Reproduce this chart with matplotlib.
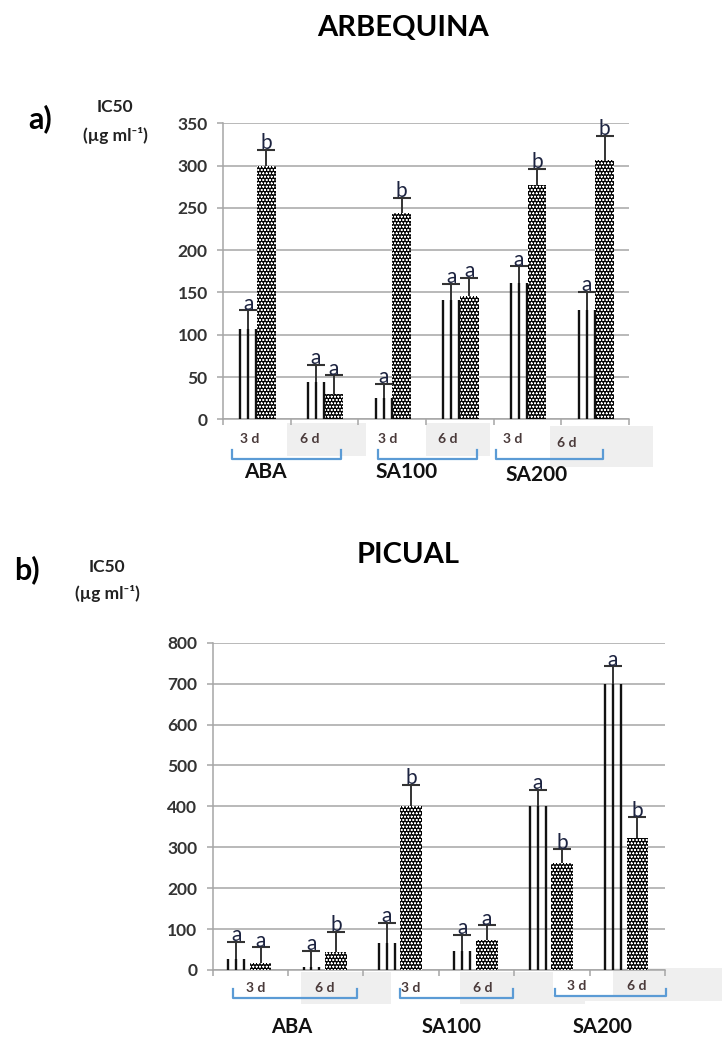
import numpy as np
import matplotlib
matplotlib.use("Agg")
import matplotlib.pyplot as plt
from matplotlib.patches import Rectangle
from matplotlib.lines import Line2D

# ---- data ----
periods = ["3 d", "6 d", "3 d", "6 d", "3 d", "6 d"]
treatments = ["ABA", "SA100", "SA200"]

# ARBEQUINA (panel a)
arb_striped = [107, 44, 25, 141, 161, 129]
arb_striped_err = [22, 20, 17, 19, 20, 22]
arb_dotted = [300, 30, 244, 146, 277, 307]
arb_dotted_err = [19, 22, 18, 21, 19, 28]
arb_striped_let = ["a", "a", "a", "a", "a", "a"]
arb_dotted_let = ["b", "a", "b", "a", "b", "b"]

# PICUAL (panel b)
pic_striped = [28, 8, 67, 46, 400, 700]
pic_striped_err = [41, 38, 49, 40, 40, 42]
pic_dotted = [16, 43, 400, 73, 261, 322]
pic_dotted_err = [39, 51, 52, 36, 34, 51]
pic_striped_let = ["a", "a", "a", "a", "a", "a"]
pic_dotted_let = ["a", "b", "b", "a", "b", "b"]

W, H = 722, 1039
plt.rcParams["font.family"] = ["Lato", "DejaVu Sans"]
plt.rcParams["hatch.linewidth"] = 0.4

fig = plt.figure(figsize=(W / 100, H / 100), dpi=100)


def fx(x):
    return x / W


def fy(y):
    return 1 - y / H


def ftext(x, y, s, **kw):
    kw.setdefault("ha", "center")
    kw.setdefault("va", "center")
    fig.text(fx(x), fy(y), s, **kw)


def bracket(x0, x1, ytop, ybot):
    xs = [fx(x0), fx(x0), fx(x1), fx(x1)]
    ys = [fy(ytop), fy(ybot), fy(ybot), fy(ytop)]
    fig.add_artist(Line2D(xs, ys, color="#5b9bd5", lw=1.6))


def graybox(x0, x1, y0, y1, color="#efefef"):
    fig.add_artist(Rectangle((fx(x0), fy(y1)), fx(x1) - fx(x0), fy(y0) - fy(y1),
                             transform=fig.transFigure, color=color, zorder=0, lw=0))


def up_errors(ax, x, vals, errs, letters):
    tops = np.array(vals) + np.array(errs)
    ax.vlines(x, vals, tops, color="#333333", lw=1.4, zorder=5)
    ax.plot(x, tops, ls="none", marker="_", ms=13, mew=1.5, color="#333333", zorder=5)
    for xi, t, s in zip(x, tops, letters):
        ax.annotate(s, (xi, t), xytext=(0, 0.5), textcoords="offset points",
                    ha="center", va="baseline", fontsize=15, color="#1c2340", zorder=6)


def panel(rect, ymax, ystep, striped, s_err, dotted, d_err, s_let, d_let,
          s_off, s_w, d_off, d_w):
    ax = fig.add_axes(rect)
    ax.set_zorder(2)
    ax.patch.set_alpha(0)
    x = np.arange(len(striped)) + 0.5
    xs = x + s_off
    xd = x + d_off
    # dotted bars: dark fill with white dots
    ax.bar(xd, dotted, width=d_w, color="#050505", edgecolor="white",
           hatch="ooooo", linewidth=0, zorder=3)
    # striped bars: three vertical lines
    for k in (-0.5, 0.0, 0.5):
        ax.vlines(xs + k * s_w, 0, striped, color="#111111", lw=1.7, zorder=3)
    up_errors(ax, xs, striped, s_err, s_let)
    up_errors(ax, xd, dotted, d_err, d_let)
    ax.set_xlim(0, len(striped))
    ax.set_ylim(0, ymax)
    ax.set_yticks(np.arange(0, ymax + 1, ystep))
    ax.set_xticks(np.arange(0, len(striped) + 1))
    ax.set_xticklabels([])
    ax.yaxis.grid(True, color="#a6a6a6", lw=1.1)
    ax.set_axisbelow(True)
    for s in ("top", "right"):
        ax.spines[s].set_visible(False)
    for s in ("left", "bottom"):
        ax.spines[s].set_color("#a6a6a6")
        ax.spines[s].set_linewidth(1.1)
    ax.tick_params(axis="both", direction="out", length=4, color="#a6a6a6", width=1.1)
    ax.tick_params(axis="y", pad=7, labelsize=12.5, labelcolor="#333333")
    for lab in ax.get_yticklabels():
        lab.set_fontweight("bold")
    return ax


# ---- panel a: ARBEQUINA ----
panel([fx(223), fy(419.3), fx(629) - fx(223), fy(123.3) - fy(419.3)], 350, 50,
      arb_striped, arb_striped_err, arb_dotted, arb_dotted_err,
      arb_striped_let, arb_dotted_let, -0.125, 0.24, 0.14, 0.28)

ftext(403, 28, "ARBEQUINA", fontsize=21, fontweight="bold")
ftext(40, 119, "a)", fontsize=22, fontweight="bold")
ftext(115, 107, "IC50", fontsize=12.5, fontweight="bold", color="#222222")
ftext(115, 136, "(µg ml⁻¹)", fontsize=12.5, fontweight="bold", color="#222222")

graybox(287, 366, 423, 456)
graybox(426, 490, 423, 456)
graybox(550, 653, 426, 467)
for xp, yp, t in zip([250, 310, 388, 448, 513, 567], [439, 439, 439, 439, 439, 443], periods):
    ftext(xp, yp, t, fontsize=10, fontweight="bold", color="#4a3a3a")
bracket(232, 341, 450, 459)
bracket(378, 477, 450, 459)
bracket(496, 603, 450, 459)
for xp, yp, t in zip([265, 407, 537], [472, 472, 475], treatments):
    ftext(xp, yp, t, fontsize=15, fontweight="bold", color="#111111")

# ---- panel b: PICUAL ----
panel([fx(212.7), fy(970), fx(665) - fx(212.7), fy(642.7) - fy(970)], 800, 100,
      pic_striped, pic_striped_err, pic_dotted, pic_dotted_err,
      pic_striped_let, pic_dotted_let, -0.19, 0.21, 0.135, 0.29)

ftext(408, 555, "PICUAL", fontsize=21, fontweight="bold")
ftext(27, 570, "b)", fontsize=22, fontweight="bold")
ftext(107, 567, "IC50", fontsize=12.5, fontweight="bold", color="#222222")
ftext(107, 594, "(µg ml⁻¹)", fontsize=12.5, fontweight="bold", color="#222222")

graybox(301, 391, 972, 1004)
graybox(460, 585, 972, 1004)
graybox(553, 722, 968, 1001)
graybox(553, 613, 968, 995, color="white")
for xp, yp, t in zip([256, 325, 411, 483, 577, 637], [988, 988, 988, 988, 986, 986], periods):
    ftext(xp, yp, t, fontsize=10, fontweight="bold", color="#4a3a3a")
bracket(233, 357, 989, 998)
bracket(400, 513, 989, 998)
bracket(555, 666, 989, 996)
for xp, yp, t in zip([292, 452, 603], [1027, 1027, 1027], treatments):
    ftext(xp, yp, t, fontsize=14.5, fontweight="bold", color="#111111")

fig.savefig("out.png", dpi=100)
